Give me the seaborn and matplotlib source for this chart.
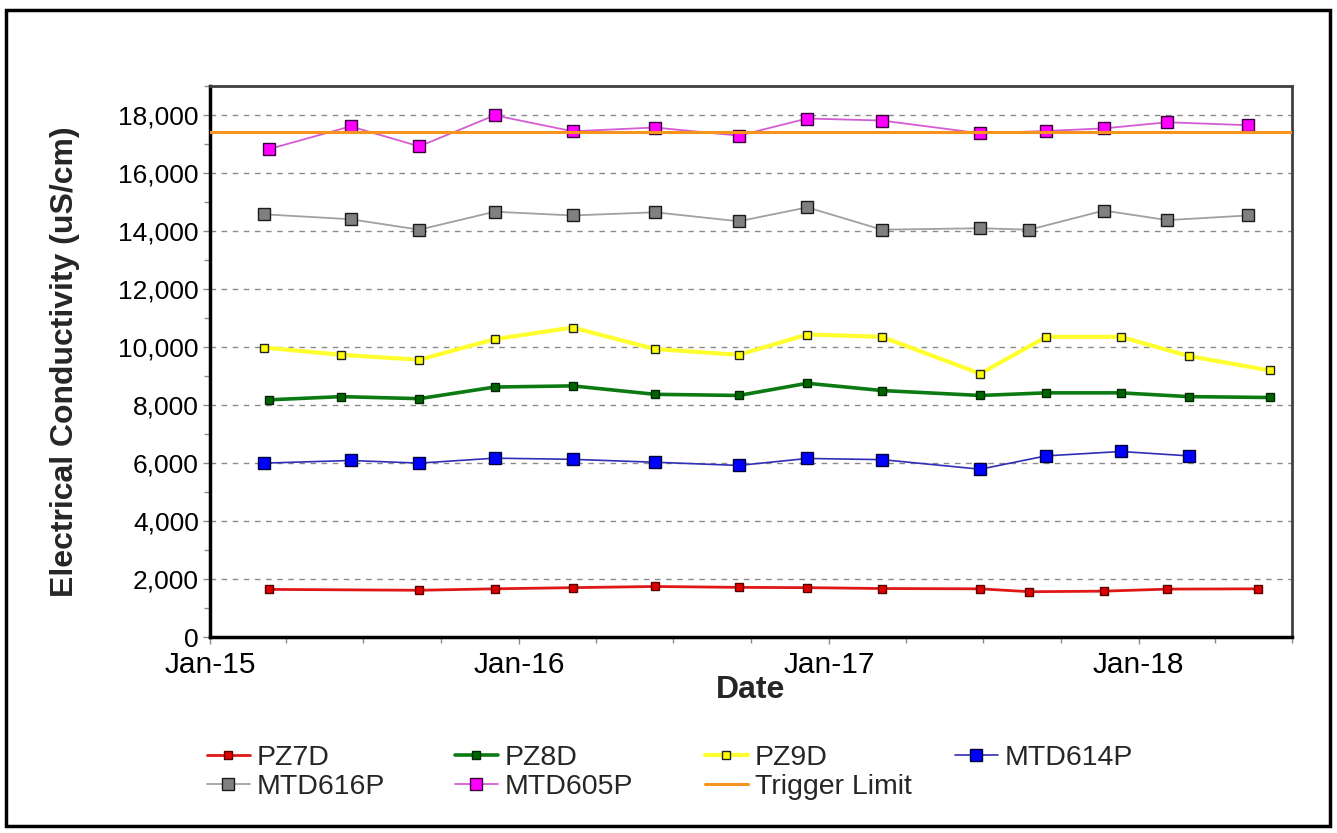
import matplotlib
matplotlib.use("Agg")
import matplotlib.pyplot as plt
import matplotlib.dates as mdates
from matplotlib.ticker import MultipleLocator, FuncFormatter, NullFormatter
from matplotlib.patches import Rectangle
import pandas as pd
import seaborn as sns

# ---------------- data ----------------
pz7d_dates = ["2015-03-12", "2015-09-05", "2015-12-03", "2016-03-04", "2016-06-09",
              "2016-09-16", "2016-12-06", "2017-03-04", "2017-06-28", "2017-08-25",
              "2017-11-21", "2018-02-04", "2018-05-22"]
pz7d_values = [1650, 1620, 1670, 1710, 1750, 1720, 1710, 1680, 1670, 1570, 1590, 1660, 1670]

pz8d_dates = ["2015-03-12", "2015-06-05", "2015-09-05", "2015-12-03", "2016-03-04",
              "2016-06-09", "2016-09-16", "2016-12-06", "2017-03-04", "2017-06-28",
              "2017-09-14", "2017-12-11", "2018-03-01", "2018-06-05"]
pz8d_values = [8180, 8290, 8220, 8620, 8660, 8370, 8330, 8750, 8500, 8330, 8420, 8420, 8290, 8260]

pz9d_dates = ["2015-03-06", "2015-06-05", "2015-09-05", "2015-12-03", "2016-03-04",
              "2016-06-09", "2016-09-16", "2016-12-06", "2017-03-04", "2017-06-28",
              "2017-09-14", "2017-12-11", "2018-03-01", "2018-06-05"]
pz9d_values = [9980, 9730, 9560, 10270, 10670, 9930, 9730, 10430, 10350, 9080, 10350, 10350, 9690, 9190]

mtd614p_dates = ["2015-03-06", "2015-06-16", "2015-09-05", "2015-12-03", "2016-03-04",
                 "2016-06-09", "2016-09-16", "2016-12-06", "2017-03-04", "2017-06-28",
                 "2017-09-14", "2017-12-11", "2018-03-01"]
mtd614p_values = [6000, 6090, 6000, 6170, 6130, 6030, 5920, 6160, 6120, 5790, 6250, 6400, 6250]

mtd616p_dates = ["2015-03-06", "2015-06-16", "2015-09-05", "2015-12-03", "2016-03-04",
                 "2016-06-09", "2016-09-16", "2016-12-06", "2017-03-04", "2017-06-28",
                 "2017-08-25", "2017-11-21", "2018-02-04", "2018-05-10"]
mtd616p_values = [14570, 14400, 14040, 14660, 14530, 14640, 14330, 14810, 14040, 14090,
                  14040, 14700, 14370, 14530]

mtd605p_dates = ["2015-03-12", "2015-06-16", "2015-09-05", "2015-12-03", "2016-03-04",
                 "2016-06-09", "2016-09-16", "2016-12-06", "2017-03-04", "2017-06-28",
                 "2017-09-14", "2017-11-21", "2018-02-04", "2018-05-10"]
mtd605p_values = [16820, 17600, 16910, 17980, 17430, 17560, 17280, 17870, 17800, 17360,
                  17440, 17530, 17740, 17640]

trigger_dates = ["2015-01-01", "2018-07-01"]
trigger_values = [17400, 17400]

x_limits = ["2015-01-01", "2018-07-01"]
y_limits = [0, 19000]

# ---------------- style ----------------
sns.set_theme(style="white")
plt.rcParams['font.family'] = ['Liberation Sans', 'DejaVu Sans']

W, H = 1337, 833
fig = plt.figure(figsize=(W / 100, H / 100), dpi=100)
ax = fig.add_axes([210 / W, 1 - 637.3 / H, (1292 - 210) / W, (637.3 - 85.7) / H])

series = [
    ("PZ7D", pz7d_dates, pz7d_values,
     dict(color="#E01818", linewidth=2.0, markersize=5.5, markerfacecolor="#E00000",
          markeredgecolor="#5a0000")),
    ("PZ8D", pz8d_dates, pz8d_values,
     dict(color="#0B7A12", linewidth=2.6, markersize=6.0, markerfacecolor="#006400",
          markeredgecolor="#002800")),
    ("PZ9D", pz9d_dates, pz9d_values,
     dict(color="#FFFF30", linewidth=3.0, markersize=6.2, markerfacecolor="#FFFF00",
          markeredgecolor="#222222")),
    ("MTD614P", mtd614p_dates, mtd614p_values,
     dict(color="#2E2EB8", linewidth=1.2, markersize=9.0, markerfacecolor="#0000FF",
          markeredgecolor="#00003a")),
    ("MTD616P", mtd616p_dates, mtd616p_values,
     dict(color="#A0A0A0", linewidth=1.3, markersize=9.0, markerfacecolor="#808080",
          markeredgecolor="#1a1a1a")),
    ("MTD605P", mtd605p_dates, mtd605p_values,
     dict(color="#D45CD4", linewidth=1.3, markersize=9.0, markerfacecolor="#FF00FF",
          markeredgecolor="#3a003a")),
]

for name, d, v, st in series:
    sns.lineplot(x=pd.to_datetime(d), y=v, ax=ax, marker="s", markeredgewidth=1.0,
                 label=name, zorder=3, **st)

sns.lineplot(x=pd.to_datetime(trigger_dates), y=trigger_values, ax=ax,
             color="#F7941D", linewidth=2.2, label="Trigger Limit", zorder=4)

if ax.get_legend() is not None:
    ax.get_legend().remove()

# ---------------- axes ----------------
ax.set_xlim(pd.to_datetime(x_limits[0]), pd.to_datetime(x_limits[1]))
ax.set_ylim(*y_limits)

ax.yaxis.set_major_locator(MultipleLocator(2000))
ax.yaxis.set_minor_locator(MultipleLocator(1000))
ax.yaxis.set_major_formatter(FuncFormatter(lambda v, p: f"{int(v):,}"))

ax.xaxis.set_major_locator(mdates.YearLocator())
ax.xaxis.set_major_formatter(mdates.DateFormatter("%b-%y"))
ax.xaxis.set_minor_locator(mdates.MonthLocator(bymonth=[4, 7, 10]))
ax.xaxis.set_minor_formatter(NullFormatter())

ax.grid(False)
ax.yaxis.grid(True, which="major", linestyle=(0, (4, 4)), color="#8a8a8a", linewidth=1.0, zorder=0)
ax.set_axisbelow(True)

ax.tick_params(axis="both", which="major", direction="out", length=5, width=1,
               color="#8a8a8a", labelcolor="black")
ax.tick_params(axis="both", which="minor", direction="out", length=4, width=1, color="#8a8a8a")
ax.tick_params(axis="x", which="major", labelsize=21.5, pad=5)
ax.tick_params(axis="y", which="major", labelsize=19, pad=3)
ax.tick_params(axis="x", which="both", bottom=True)
ax.tick_params(axis="y", which="both", left=True)

for s in ["left", "bottom"]:
    ax.spines[s].set_color("black")
    ax.spines[s].set_linewidth(2.5)
for s in ["top", "right"]:
    ax.spines[s].set_color("#404040")
    ax.spines[s].set_linewidth(2.0)

ax.set_xlabel("Date", fontsize=23, fontweight="bold", labelpad=-3)
ax.set_ylabel("Electrical Conductivity (uS/cm)", fontsize=23, fontweight="bold")
ax.yaxis.set_label_coords((80 - 210) / (1292 - 210), 0.5)

# ---------------- legend (4 fixed columns) ----------------
handles, labels = ax.get_legend_handles_labels()
lookup = dict(zip(labels, handles))
columns = [["PZ7D", "MTD616P"], ["PZ8D", "MTD605P"], ["PZ9D", "Trigger Limit"], ["MTD614P"]]
col_x = [207, 455, 705, 955]
for names, xpx in zip(columns, col_x):
    fig.legend([lookup[n] for n in names], names, loc="upper left",
               bbox_to_anchor=(xpx / W, 1 - 745 / H), frameon=False,
               fontsize=20.5, handlelength=1.5, handletextpad=0.25,
               borderpad=0, borderaxespad=0, labelspacing=0.1)

# ---------------- outer frame ----------------
fig.patches.append(Rectangle((6 / W, 1 - 826 / H), (1330 - 6) / W, (826 - 10) / H,
                             transform=fig.transFigure, fill=False, edgecolor="black",
                             linewidth=2.5))

fig.savefig("out.png", dpi=100, facecolor="white")
